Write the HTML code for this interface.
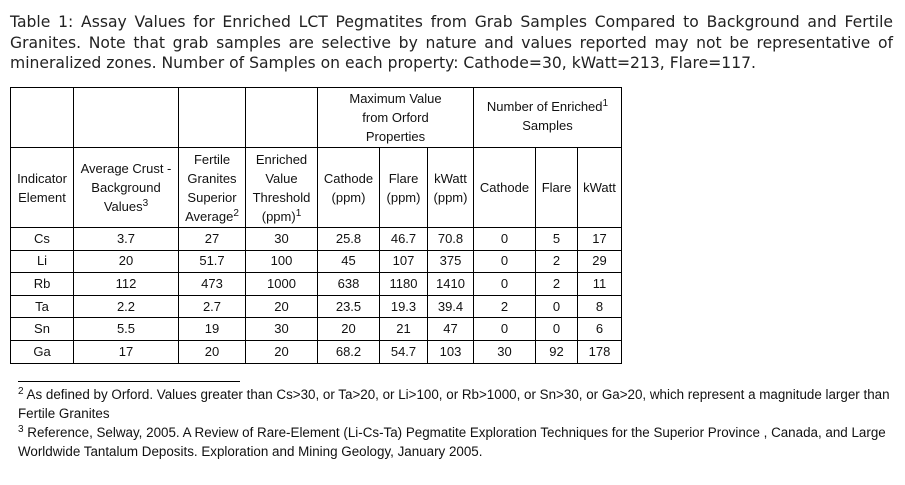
<!DOCTYPE html>
<html><head><meta charset="utf-8"><style>
body{margin:0;background:#fff;width:905px;height:485px;overflow:hidden;position:relative;color:#111;}
.t{position:absolute;left:10px;top:12px;width:883px;font-family:"DejaVu Sans",sans-serif;font-size:15.6px;line-height:20.5px;text-align:justify;color:#222;}
table{position:absolute;left:10px;top:87px;border-collapse:collapse;table-layout:fixed;font-family:"Liberation Sans",Arial,sans-serif;font-size:13px;}
td{border:1px solid #000;text-align:center;padding:0;line-height:19px;white-space:nowrap;}
sup{font-size:10px;line-height:0;vertical-align:5px;}
.r td{height:21.6px;padding:0;line-height:20px;}
.fn{position:absolute;left:18px;font-family:"Liberation Sans",Arial,sans-serif;font-size:13.4px;line-height:19px;width:885px;}
.rule{position:absolute;left:18px;top:381px;width:222px;border-top:1px solid #000;}
</style></head><body>
<div class="t">Table 1: Assay Values for Enriched LCT Pegmatites from Grab Samples Compared to Background and Fertile Granites. Note that grab samples are selective by nature and values reported may not be representative of mineralized zones. Number of Samples on each property: Cathode=30, kWatt=213, Flare=117.</div>
<table>
<colgroup><col style="width:63px"><col style="width:105px"><col style="width:67px"><col style="width:72px"><col style="width:62px"><col style="width:48px"><col style="width:46px"><col style="width:62px"><col style="width:42px"><col style="width:44px"></colgroup>
<tr style="height:60px"><td></td><td></td><td></td><td></td><td colspan="3">Maximum Value<br>from Orford<br>Properties</td><td colspan="3" style="vertical-align:top;padding-top:9px">Number of Enriched<sup>1</sup><br>Samples</td></tr>
<tr style="height:80px"><td>Indicator<br>Element</td><td>Average Crust -<br>Background<br>Values<sup>3</sup></td><td>Fertile<br>Granites<br>Superior<br>Average<sup>2</sup></td><td>Enriched<br>Value<br>Threshold<br>(ppm)<sup>1</sup></td><td>Cathode<br>(ppm)</td><td>Flare<br>(ppm)</td><td>kWatt<br>(ppm)</td><td>Cathode</td><td>Flare</td><td>kWatt</td></tr>
<tr class="r"><td>Cs</td><td>3.7</td><td>27</td><td>30</td><td>25.8</td><td>46.7</td><td>70.8</td><td>0</td><td>5</td><td>17</td></tr>
<tr class="r"><td>Li</td><td>20</td><td>51.7</td><td>100</td><td>45</td><td>107</td><td>375</td><td>0</td><td>2</td><td>29</td></tr>
<tr class="r"><td>Rb</td><td>112</td><td>473</td><td>1000</td><td>638</td><td>1180</td><td>1410</td><td>0</td><td>2</td><td>11</td></tr>
<tr class="r"><td>Ta</td><td>2.2</td><td>2.7</td><td>20</td><td>23.5</td><td>19.3</td><td>39.4</td><td>2</td><td>0</td><td>8</td></tr>
<tr class="r"><td>Sn</td><td>5.5</td><td>19</td><td>30</td><td>20</td><td>21</td><td>47</td><td>0</td><td>0</td><td>6</td></tr>
<tr class="r"><td>Ga</td><td>17</td><td>20</td><td>20</td><td>68.2</td><td>54.7</td><td>103</td><td>30</td><td>92</td><td>178</td></tr>
</table>
<div class="rule"></div>
<div class="fn" style="top:385px"><sup>2</sup> As defined by Orford. Values greater than Cs&gt;30, or Ta&gt;20, or Li&gt;100, or Rb&gt;1000, or Sn&gt;30, or Ga&gt;20, which represent a magnitude larger than<br>Fertile Granites</div>
<div class="fn" style="top:423px"><sup>3</sup> Reference, Selway, 2005. A Review of Rare-Element (Li-Cs-Ta) Pegmatite Exploration Techniques for the Superior Province , Canada, and Large<br>Worldwide Tantalum Deposits. Exploration and Mining Geology, January 2005.</div>
</body></html>
